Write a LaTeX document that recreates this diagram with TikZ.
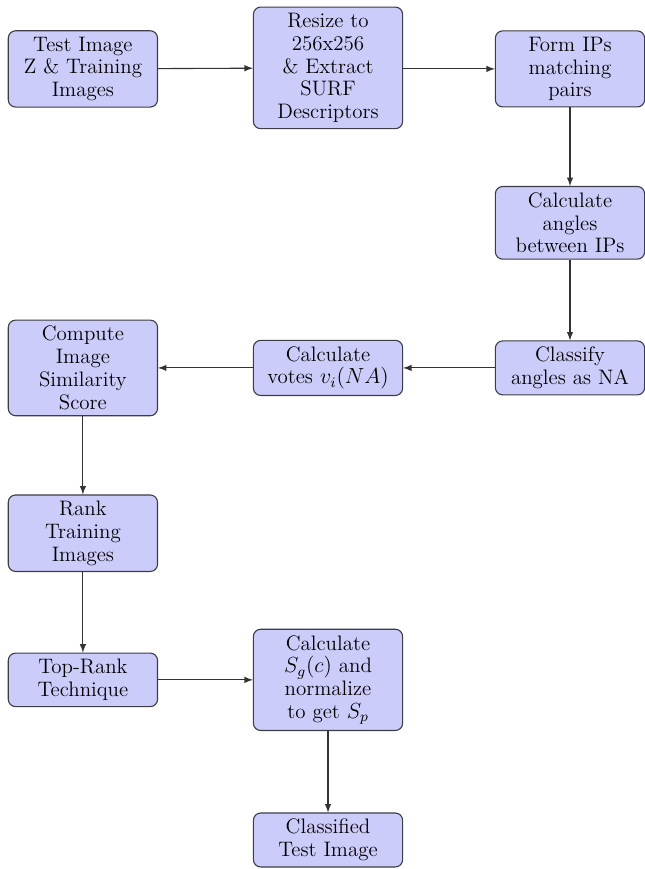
\documentclass[tikz,border=0pt]{standalone}
\usepackage{xcolor}
\usepackage{tikz}
\usetikzlibrary{shapes.geometric, arrows, positioning, calc}
\definecolor{boxfill}{RGB}{204, 204, 250}
\definecolor{boxline}{RGB}{60, 60, 70}

\tikzset{
    procbox/.style={rectangle, rounded corners=4pt, draw=boxline, semithick,
        fill=boxfill, text width=2.6cm, minimum width=2.88cm, align=center,
        font=\fontsize{11.5}{12.5}\selectfont},
    flowarrow/.style={-latex, draw=black!80, semithick}
}

\begin{document}
\begin{tikzpicture}
    % Page frame
    \useasboundingbox (0,0) rectangle (12.43,-16.77);

    % Top row
    \node[procbox] (input) at (1.60,-1.33) {Test Image\\ Z \& Training\\ Images};
    \node[procbox] (resize) at (6.33,-1.31) {Resize to\\ 256x256\\ \& Extract\\ SURF\\ Descriptors};
    \node[procbox] (pairs) at (11.00,-1.33) {Form IPs\\ matching\\ pairs};

    % Right column
    \node[procbox] (angles) at (11.00,-4.30) {Calculate\\ angles\\ between IPs};
    \node[procbox] (classify) at (11.00,-7.10) {Classify\\ angles as NA};

    % Middle row
    \node[procbox] (votes) at (6.33,-7.10) {Calculate\\ votes $v_i(NA)$};
    \node[procbox] (score) at (1.60,-7.10) {Compute\\ Image\\ Similarity\\ Score};

    % Left column
    \node[procbox] (rank) at (1.60,-10.29) {Rank\\ Training\\ Images};
    \node[procbox] (toprank) at (1.60,-13.12) {Top-Rank\\ Technique};

    % Bottom
    \node[procbox] (norm) at (6.33,-13.12) {Calculate\\ $S_g(c)$ and\\ normalize\\ to get $S_p$};
    \node[procbox] (result) at (6.33,-16.21) {Classified\\ Test Image};

    % Arrows
    \draw[flowarrow] (input) -- (resize);
    \draw[flowarrow] (resize.east |- pairs) -- (pairs);
    \draw[flowarrow] (pairs) -- (angles);
    \draw[flowarrow] (angles) -- (classify);
    \draw[flowarrow] (classify) -- (votes);
    \draw[flowarrow] (votes) -- (score);
    \draw[flowarrow] (score) -- (rank);
    \draw[flowarrow] (rank) -- (toprank);
    \draw[flowarrow] (toprank) -- (norm);
    \draw[flowarrow] (norm) -- (result);

\end{tikzpicture}
\end{document}
